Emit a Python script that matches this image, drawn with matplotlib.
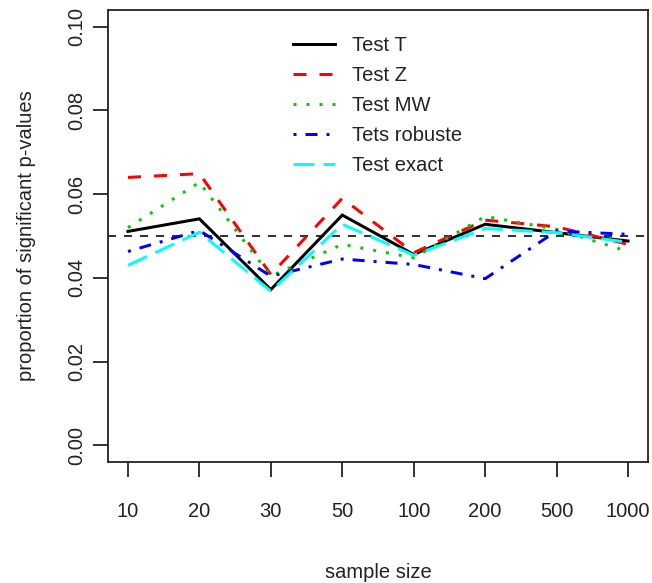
import matplotlib
matplotlib.use("Agg")
import matplotlib.pyplot as plt
import numpy as np

plt.rcParams['font.family'] = ['Liberation Sans', 'DejaVu Sans']
plt.rcParams['lines.scale_dashes'] = False

sample_sizes = ["10", "20", "30", "50", "100", "200", "500", "1000"]
test_t = [0.0511, 0.0541, 0.0372, 0.0550, 0.0456, 0.0528, 0.0508, 0.0488]
test_z = [0.0640, 0.0649, 0.0408, 0.0590, 0.0460, 0.0538, 0.0522, 0.0480]
test_mw = [0.0520, 0.0628, 0.0404, 0.0480, 0.0448, 0.0547, 0.0516, 0.0463]
test_rob = [0.0463, 0.0513, 0.0404, 0.0445, 0.0432, 0.0398, 0.0512, 0.0504]
test_exact = [0.0430, 0.0509, 0.0368, 0.0528, 0.0454, 0.0518, 0.0508, 0.0485]
labels = ["Test T", "Test Z", "Test MW", "Tets robuste", "Test exact"]
ref_level = 0.05

W, H = 652, 583
fig = plt.figure(figsize=(W / 100, H / 100), dpi=100)
ax = fig.add_axes([108 / W, 1 - 462 / H, 540 / W, 452 / H])

x = np.arange(1, len(sample_sizes) + 1)
px = 0.72  # points per pixel
lw = 3 * px
series = [test_t, test_z, test_mw, test_rob, test_exact]
colors = ["black", "#FF0000", "#00CD00", "#0000FF", "#00FFFF"]
dashes = [None,
          (0, (13 * px, 13 * px)),
          (0, (3 * px, 10 * px)),
          (0, (3 * px, 9 * px, 12 * px, 9 * px)),
          (0, (21 * px, 9 * px))]

ax.axhline(ref_level, color="#333333", lw=2 * px, linestyle=(0, (8 * px, 8 * px)), zorder=1)

for s, c, d, lab in zip(series, colors, dashes, labels):
    if d is None:
        ax.plot(x, s, color=c, lw=lw, label=lab, solid_joinstyle='miter')
    else:
        ax.plot(x, s, color=c, lw=lw, linestyle=d, label=lab)

ax.set_xlim(0.72, 8.28)
ax.set_ylim(-0.004, 0.104)
ax.set_xticks(x)
ax.set_xticklabels(sample_sizes)
ax.set_yticks([0.0, 0.02, 0.04, 0.06, 0.08, 0.10])
ax.set_yticklabels(["0.00", "0.02", "0.04", "0.06", "0.08", "0.10"], rotation=90, va='center')

fs = 14.5
ax.tick_params(axis='both', direction='out', length=15 * px, width=1.3, colors='#222222', labelsize=fs)
ax.tick_params(axis='x', pad=18)
ax.tick_params(axis='y', pad=5)
for sp in ax.spines.values():
    sp.set_linewidth(1.3)
    sp.set_color('#222222')

ax.set_xlabel("sample size", fontsize=fs, color='#222222', labelpad=30)
ax.set_ylabel("proportion of significant p-values", fontsize=fs, color='#222222', labelpad=22)

leg = ax.legend(loc='upper left', bbox_to_anchor=((293 - 108) / 540, (462 - 36) / 452),
                frameon=False, fontsize=fs, handlelength=2.1, handletextpad=0.85,
                labelspacing=0.55, borderpad=0, borderaxespad=0)
for t in leg.get_texts():
    t.set_color('#222222')

fig.savefig("out.png", dpi=100)
